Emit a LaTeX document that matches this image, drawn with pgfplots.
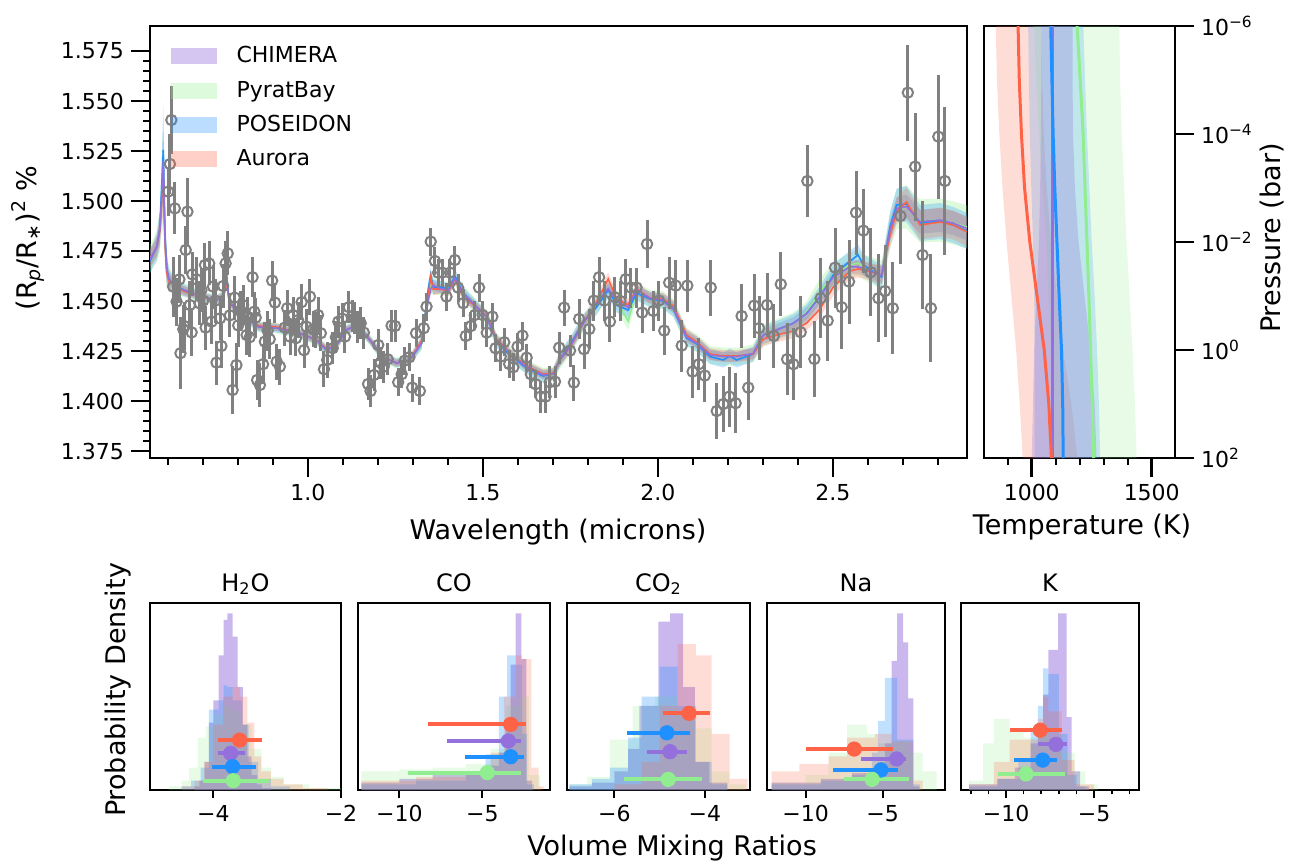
\documentclass[border=0pt]{standalone}
\usepackage{pgfplots}
\pgfplotsset{compat=1.18}
\usepackage{pgfplotstable}
\usepgfplotslibrary{fillbetween}
\usepackage{fontspec}
\setmainfont{DejaVu Sans}

\definecolor{chim}{RGB}{147,112,219}
\definecolor{pyrb}{RGB}{144,238,144}
\definecolor{posd}{RGB}{30,144,255}
\definecolor{aurr}{RGB}{255,99,71}
\definecolor{datag}{RGB}{128,128,128}

\pgfplotstableread{
x y e
0.601 1.5047 0.012
0.606 1.5185 0.015
0.610 1.5405 0.017
0.615 1.4572 0.015
0.620 1.4963 0.013
0.625 1.4497 0.012
0.633 1.4608 0.012
0.636 1.4239 0.018
0.644 1.4359 0.012
0.647 1.4375 0.012
0.651 1.4755 0.012
0.656 1.4947 0.017
0.663 1.4480 0.012
0.668 1.4343 0.012
0.670 1.4633 0.011
0.682 1.4608 0.011
0.691 1.4488 0.011
0.696 1.4555 0.011
0.701 1.4502 0.011
0.706 1.4680 0.011
0.708 1.4367 0.011
0.718 1.4688 0.011
0.725 1.4397 0.011
0.729 1.4572 0.011
0.736 1.4502 0.011
0.739 1.4192 0.011
0.749 1.4413 0.011
0.753 1.4275 0.011
0.758 1.4575 0.011
0.765 1.4688 0.011
0.771 1.4738 0.011
0.777 1.4428 0.011
0.785 1.4055 0.012
0.791 1.4517 0.011
0.796 1.4180 0.011
0.801 1.4378 0.011
0.808 1.4452 0.010
0.815 1.4480 0.010
0.825 1.4330 0.010
0.828 1.4422 0.010
0.834 1.4319 0.010
0.842 1.4619 0.010
0.847 1.4447 0.010
0.851 1.4417 0.010
0.855 1.4105 0.010
0.863 1.4080 0.011
0.872 1.4184 0.010
0.877 1.4297 0.010
0.885 1.4352 0.010
0.891 1.4309 0.010
0.898 1.4602 0.010
0.906 1.4492 0.010
0.911 1.4197 0.009
0.920 1.4172 0.009
0.934 1.4367 0.009
0.941 1.4464 0.009
0.949 1.4322 0.009
0.958 1.4430 0.009
0.966 1.4314 0.009
0.972 1.4405 0.009
0.982 1.4494 0.009
0.989 1.4254 0.009
0.996 1.4372 0.009
1.006 1.4522 0.009
1.015 1.4359 0.009
1.022 1.4355 0.009
1.029 1.4430 0.009
1.037 1.4339 0.009
1.046 1.4159 0.009
1.055 1.4205 0.009
1.071 1.4264 0.008
1.080 1.4319 0.008
1.087 1.4397 0.008
1.098 1.4412 0.008
1.106 1.4322 0.008
1.117 1.4469 0.008
1.127 1.4425 0.008
1.134 1.4413 0.008
1.141 1.4372 0.008
1.151 1.4389 0.008
1.160 1.4342 0.008
1.172 1.4085 0.008
1.179 1.4050 0.008
1.189 1.4130 0.008
1.201 1.4280 0.008
1.208 1.4192 0.008
1.217 1.4172 0.008
1.228 1.4209 0.008
1.239 1.4377 0.008
1.249 1.4375 0.008
1.258 1.4094 0.007
1.268 1.4134 0.007
1.277 1.4202 0.007
1.290 1.4219 0.007
1.298 1.4067 0.007
1.309 1.4339 0.007
1.320 1.4050 0.007
1.331 1.4364 0.007
1.339 1.4472 0.007
1.351 1.4797 0.007
1.363 1.4700 0.007
1.372 1.4642 0.007
1.384 1.4642 0.007
1.396 1.4522 0.007
1.406 1.4642 0.007
1.420 1.4705 0.007
1.429 1.4567 0.007
1.444 1.4489 0.007
1.451 1.4325 0.007
1.466 1.4375 0.007
1.477 1.4430 0.007
1.489 1.4567 0.007
1.499 1.4430 0.007
1.511 1.4342 0.007
1.527 1.4422 0.007
1.536 1.4264 0.007
1.551 1.4222 0.007
1.561 1.4294 0.007
1.575 1.4185 0.007
1.587 1.4169 0.007
1.599 1.4272 0.007
1.613 1.4327 0.007
1.625 1.4217 0.007
1.637 1.4134 0.007
1.651 1.4084 0.007
1.665 1.4022 0.008
1.679 1.4022 0.008
1.691 1.4094 0.008
1.706 1.4097 0.008
1.718 1.4267 0.008
1.732 1.4467 0.009
1.749 1.4252 0.008
1.760 1.4092 0.009
1.775 1.4410 0.010
1.789 1.4259 0.010
1.804 1.4360 0.010
1.817 1.4502 0.010
1.832 1.4619 0.010
1.847 1.4502 0.010
1.863 1.4397 0.010
1.877 1.4519 0.010
1.893 1.4500 0.010
1.908 1.4609 0.010
1.923 1.4567 0.010
1.939 1.4567 0.010
1.955 1.4442 0.010
1.969 1.4785 0.012
1.987 1.4450 0.010
2.003 1.4502 0.010
2.018 1.4352 0.012
2.032 1.4592 0.013
2.051 1.4577 0.013
2.068 1.4277 0.013
2.084 1.4577 0.013
2.099 1.4147 0.013
2.117 1.4184 0.013
2.134 1.4127 0.013
2.151 1.4567 0.014
2.168 1.3950 0.014
2.187 1.3985 0.014
2.204 1.4022 0.015
2.222 1.3989 0.015
2.239 1.4425 0.016
2.258 1.4067 0.016
2.275 1.4477 0.016
2.289 1.4364 0.016
2.312 1.4480 0.016
2.331 1.4325 0.016
2.351 1.4584 0.016
2.369 1.4209 0.018
2.387 1.4184 0.018
2.408 1.4344 0.018
2.427 1.5100 0.018
2.447 1.4210 0.019
2.465 1.4514 0.020
2.485 1.4402 0.020
2.506 1.4667 0.020
2.525 1.4469 0.021
2.546 1.4597 0.021
2.566 1.4942 0.021
2.587 1.4852 0.021
2.608 1.4644 0.022
2.630 1.4514 0.022
2.649 1.4550 0.023
2.671 1.4464 0.023
2.693 1.4925 0.024
2.714 1.5542 0.024
2.735 1.5172 0.027
2.756 1.4730 0.027
2.780 1.4464 0.027
2.801 1.5322 0.031
2.820 1.5100 0.037
}\spec

\pgfplotstableread{
x chi pyr pos aur w
0.549 1.4710 1.4710 1.4700 1.4710 0.0040
0.560 1.4745 1.4745 1.4740 1.4745 0.0040
0.568 1.4770 1.4770 1.4770 1.4770 0.0045
0.577 1.4855 1.4850 1.4860 1.4850 0.0060
0.582 1.5000 1.4990 1.5050 1.4980 0.0090
0.587 1.5200 1.5150 1.5255 1.5120 0.0150
0.592 1.4800 1.4800 1.4820 1.4780 0.0080
0.597 1.4660 1.4660 1.4660 1.4640 0.0050
0.603 1.4610 1.4610 1.4610 1.4600 0.0035
0.615 1.4585 1.4585 1.4585 1.4580 0.0025
0.645 1.4555 1.4555 1.4555 1.4550 0.0020
0.700 1.4520 1.4520 1.4520 1.4520 0.0015
0.740 1.4505 1.4505 1.4505 1.4505 0.0015
0.760 1.4530 1.4530 1.4530 1.4530 0.0015
0.768 1.4620 1.4610 1.4630 1.4600 0.0020
0.775 1.4500 1.4500 1.4500 1.4500 0.0015
0.800 1.4440 1.4440 1.4440 1.4440 0.0015
0.860 1.4370 1.4370 1.4370 1.4375 0.0015
0.910 1.4365 1.4365 1.4365 1.4370 0.0015
0.975 1.4340 1.4340 1.4340 1.4340 0.0015
1.025 1.4305 1.4305 1.4305 1.4305 0.0015
1.053 1.4255 1.4255 1.4255 1.4260 0.0015
1.082 1.4280 1.4280 1.4280 1.4280 0.0015
1.110 1.4355 1.4355 1.4355 1.4355 0.0015
1.140 1.4380 1.4380 1.4380 1.4380 0.0015
1.177 1.4305 1.4305 1.4305 1.4305 0.0015
1.215 1.4220 1.4220 1.4220 1.4220 0.0015
1.253 1.4190 1.4190 1.4190 1.4190 0.0015
1.291 1.4205 1.4205 1.4205 1.4205 0.0015
1.325 1.4290 1.4290 1.4290 1.4300 0.0020
1.344 1.4505 1.4520 1.4560 1.4530 0.0025
1.351 1.4560 1.4580 1.4630 1.4620 0.0025
1.358 1.4580 1.4580 1.4570 1.4560 0.0025
1.377 1.4563 1.4565 1.4570 1.4560 0.0020
1.402 1.4555 1.4560 1.4560 1.4550 0.0020
1.420 1.4613 1.4615 1.4625 1.4610 0.0020
1.444 1.4538 1.4540 1.4540 1.4520 0.0020
1.482 1.4470 1.4470 1.4470 1.4470 0.0020
1.511 1.4420 1.4420 1.4420 1.4425 0.0020
1.539 1.4305 1.4305 1.4300 1.4310 0.0020
1.577 1.4238 1.4238 1.4230 1.4240 0.0020
1.625 1.4170 1.4170 1.4165 1.4175 0.0020
1.672 1.4130 1.4130 1.4125 1.4135 0.0020
1.701 1.4135 1.4135 1.4135 1.4140 0.0020
1.720 1.4205 1.4205 1.4210 1.4205 0.0025
1.749 1.4272 1.4272 1.4280 1.4270 0.0025
1.787 1.4389 1.4389 1.4395 1.4390 0.0025
1.825 1.4489 1.4480 1.4470 1.4495 0.0025
1.858 1.4563 1.4560 1.4555 1.4610 0.0025
1.882 1.4497 1.4500 1.4480 1.4510 0.0025
1.915 1.4470 1.4400 1.4455 1.4480 0.0025
1.939 1.4555 1.4550 1.4540 1.4560 0.0025
1.977 1.4514 1.4510 1.4510 1.4515 0.0025
2.015 1.4505 1.4505 1.4500 1.4510 0.0025
2.044 1.4464 1.4464 1.4460 1.4475 0.0025
2.082 1.4320 1.4320 1.4315 1.4330 0.0025
2.111 1.4289 1.4289 1.4285 1.4295 0.0025
2.149 1.4230 1.4230 1.4222 1.4235 0.0025
2.187 1.4222 1.4222 1.4205 1.4225 0.0025
2.205 1.4222 1.4222 1.4225 1.4225 0.0025
2.225 1.4222 1.4222 1.4205 1.4225 0.0025
2.272 1.4238 1.4238 1.4235 1.4235 0.0025
2.301 1.4330 1.4330 1.4330 1.4310 0.0030
2.339 1.4355 1.4355 1.4355 1.4330 0.0030
2.387 1.4389 1.4389 1.4389 1.4350 0.0030
2.425 1.4438 1.4445 1.4438 1.4390 0.0030
2.463 1.4522 1.4550 1.4522 1.4460 0.0035
2.501 1.4620 1.4630 1.4630 1.4570 0.0035
2.549 1.4672 1.4680 1.4700 1.4650 0.0035
2.572 1.4670 1.4690 1.4730 1.4660 0.0035
2.587 1.4663 1.4670 1.4680 1.4655 0.0035
2.639 1.4630 1.4630 1.4620 1.4630 0.0040
2.663 1.4855 1.4850 1.4870 1.4830 0.0050
2.682 1.4963 1.4960 1.4980 1.4950 0.0055
2.710 1.4972 1.4970 1.4985 1.4995 0.0060
2.749 1.4897 1.4900 1.4890 1.4880 0.0060
2.806 1.4905 1.4905 1.4900 1.4895 0.0060
2.844 1.4889 1.4890 1.4880 1.4880 0.0060
2.883 1.4863 1.4870 1.4850 1.4845 0.0060
}\model

\pgfplotstableread{
p chi chilo chihi pyr pyrlo pyrhi pos poslo poshi aur aurlo aurhi
1e-6 1085 1040 1170 1189 1010 1365 1079 985 1215 943 850 1040
1e-5 1085 1040 1170 1202 1018 1368 1084 988 1222 948 855 1043
1e-4 1085 1038 1172 1214 1030 1375 1089 992 1230 957 865 1050
1e-3 1085 1035 1180 1222 1045 1385 1096 998 1240 970 878 1062
1e-2 1085 1030 1195 1230 1060 1395 1105 1005 1250 992 895 1080
1e-1 1085 1020 1220 1238 1070 1408 1114 1010 1262 1022 915 1105
1e0 1085 1010 1245 1245 1080 1420 1124 1012 1272 1052 935 1130
1e1 1085 1005 1262 1252 1086 1430 1129 1012 1280 1071 950 1165
1e2 1085 1000 1270 1258 1090 1437 1131 1012 1285 1082 962 1190
}\ptprof

\pgfplotsset{
  mystyle/.style={
    scale only axis, anchor=north west,
    axis line style={line width=1.3pt},
    tick align=outside,
    major tick length=9.5pt, minor tick length=3.5pt,
    every major tick/.append style={line width=1.3pt, black},
    every minor tick/.append style={line width=0.9pt, black},
    every tick label/.append style={font=\fontsize{11}{13}\selectfont},
  },
  botax/.style={mystyle, height=93.5pt, ymin=0, ymax=1, ytick=\empty,
    xtick pos=bottom, minor xtick={},
    major tick length=4pt, minor tick length=2.2pt,
    every major tick/.append style={line width=1pt},
    every minor tick/.append style={line width=0.8pt}},
  hchi/.style={const plot, draw=none, fill=chim, fill opacity=0.5},
  hpyr/.style={const plot, draw=none, fill=pyrb, fill opacity=0.22},
  hpos/.style={const plot, draw=none, fill=posd, fill opacity=0.28},
  haur/.style={const plot, draw=none, fill=aurr, fill opacity=0.22},
  ebar/.style={only marks, mark=*, mark size=3.6pt, color=#1,
    mark options={fill=#1, draw=#1},
    error bars/.cd, x dir=both, x explicit, error mark=none,
    error bar style={line width=2pt, color=#1}},
}

\begin{document}
\begin{tikzpicture}

% ---------------- main spectrum ----------------
\begin{axis}[mystyle, at={(75pt,-13pt)}, width=408.5pt, height=216pt,
  xmin=0.549, xmax=2.883, ymin=1.3715, ymax=1.5875,
  xtick={1.0,1.5,2.0,2.5}, xticklabels={1.0,1.5,2.0,2.5},
  minor xtick={0.6,0.7,0.8,0.9,1.1,1.2,1.3,1.4,1.6,1.7,1.8,1.9,2.1,2.2,2.3,2.4,2.6,2.7,2.8},
  ytick={1.375,1.4,1.425,1.45,1.475,1.5,1.525,1.55,1.575},
  yticklabels={1.375,1.400,1.425,1.450,1.475,1.500,1.525,1.550,1.575},
  minor y tick num=4,
  xtick pos=bottom, ytick pos=left,
  legend style={at={(0.018,0.972)}, anchor=north west, draw=none, fill=none,
    font=\fontsize{11}{13}\selectfont, row sep=3.6pt},
  legend cell align=left,
]
\addlegendimage{legend image code/.code={\fill[chim, fill opacity=0.4, draw=none] (0pt,-4pt) rectangle (23pt,4pt); \path (30.5pt,0pt);}}
\addlegendentry{CHIMERA}
\addlegendimage{legend image code/.code={\fill[pyrb, fill opacity=0.3, draw=none] (0pt,-4pt) rectangle (23pt,4pt); \path (30.5pt,0pt);}}
\addlegendentry{PyratBay}
\addlegendimage{legend image code/.code={\fill[posd, fill opacity=0.3, draw=none] (0pt,-4pt) rectangle (23pt,4pt); \path (30.5pt,0pt);}}
\addlegendentry{POSEIDON}
\addlegendimage{legend image code/.code={\fill[aurr, fill opacity=0.3, draw=none] (0pt,-4pt) rectangle (23pt,4pt); \path (30.5pt,0pt);}}
\addlegendentry{Aurora}

\addplot[draw=none, name path=chiU] table[x=x, y expr=\thisrow{chi}+\thisrow{w}] {\model};
\addplot[draw=none, name path=chiL] table[x=x, y expr=\thisrow{chi}-\thisrow{w}] {\model};
\addplot[fill=chim, fill opacity=0.35, draw=none] fill between[of=chiU and chiL];
\addplot[draw=none, name path=pyrU] table[x=x, y expr=\thisrow{pyr}+1.8*\thisrow{w}] {\model};
\addplot[draw=none, name path=pyrL] table[x=x, y expr=\thisrow{pyr}-1.8*\thisrow{w}] {\model};
\addplot[fill=pyrb, fill opacity=0.3, draw=none] fill between[of=pyrU and pyrL];
\addplot[draw=none, name path=posU] table[x=x, y expr=\thisrow{pos}+1.5*\thisrow{w}] {\model};
\addplot[draw=none, name path=posL] table[x=x, y expr=\thisrow{pos}-1.5*\thisrow{w}] {\model};
\addplot[fill=posd, fill opacity=0.25, draw=none] fill between[of=posU and posL];
\addplot[draw=none, name path=aurU] table[x=x, y expr=\thisrow{aur}+1.2*\thisrow{w}] {\model};
\addplot[draw=none, name path=aurL] table[x=x, y expr=\thisrow{aur}-1.2*\thisrow{w}] {\model};
\addplot[fill=aurr, fill opacity=0.25, draw=none] fill between[of=aurU and aurL];

\addplot[pyrb, line width=0.8pt] table[x=x, y=pyr] {\model};
\addplot[posd, line width=0.8pt] table[x=x, y=pos] {\model};
\addplot[aurr, line width=0.8pt] table[x=x, y=aur] {\model};
\addplot[chim, line width=0.8pt] table[x=x, y=chi] {\model};

\addplot[only marks, mark=o, mark size=2.6pt, datag,
  mark options={fill=white, draw=datag, line width=1pt},
  error bars/.cd, y dir=both, y explicit, error mark=none,
  error bar style={line width=1.5pt, datag}]
  table[x=x, y=y, y error=e] {\spec};
\end{axis}

% ---------------- PT profile ----------------
\begin{axis}[mystyle, at={(492pt,-13pt)}, width=95.5pt, height=216pt,
  xmin=801, xmax=1597, ymode=log, ymin=1e-6, ymax=1e2, y dir=reverse,
  xtick={1000,1500}, xticklabels={1000,1500},
  minor xtick={900,1100,1200,1300,1400},
  ytick={1e-6,1e-4,1e-2,1,1e2},
  yticklabels={10\textsuperscript{−6},10\textsuperscript{−4},10\textsuperscript{−2},10\textsuperscript{0},10\textsuperscript{2}},
  yminorticks=false,
  xtick pos=bottom, ytick pos=right, yticklabel pos=right,
]
\addplot[draw=none, name path=aL] table[x=aurlo, y=p] {\ptprof};
\addplot[draw=none, name path=aH] table[x=aurhi, y=p] {\ptprof};
\addplot[fill=aurr, fill opacity=0.22, draw=none] fill between[of=aL and aH];
\addplot[draw=none, name path=gL] table[x=pyrlo, y=p] {\ptprof};
\addplot[draw=none, name path=gH] table[x=pyrhi, y=p] {\ptprof};
\addplot[fill=pyrb, fill opacity=0.22, draw=none] fill between[of=gL and gH];
\addplot[draw=none, name path=bL] table[x=poslo, y=p] {\ptprof};
\addplot[draw=none, name path=bH] table[x=poshi, y=p] {\ptprof};
\addplot[fill=posd, fill opacity=0.2, draw=none] fill between[of=bL and bH];
\addplot[draw=none, name path=cL] table[x=chilo, y=p] {\ptprof};
\addplot[draw=none, name path=cH] table[x=chihi, y=p] {\ptprof};
\addplot[fill=chim, fill opacity=0.28, draw=none] fill between[of=cL and cH];
\addplot[chim, line width=1.5pt] table[x=chi, y=p] {\ptprof};
\addplot[pyrb, line width=1.5pt] table[x=pyr, y=p] {\ptprof};
\addplot[posd, line width=1.5pt] table[x=pos, y=p] {\ptprof};
\addplot[aurr, line width=1.5pt] table[x=aur, y=p] {\ptprof};
\end{axis}

% ---------------- H2O ----------------
\begin{axis}[botax, at={(75pt,-301.5pt)}, width=95.5pt, xmin=-4.995, xmax=-2,
  xtick={-4,-2}, xticklabels={−4,−2}]
\addplot[hchi] coordinates {(-4.30,0.02) (-4.22,0.05) (-4.14,0.15) (-4.07,0.36) (-4.00,0.48) (-3.92,0.72) (-3.84,0.91) (-3.78,0.945) (-3.70,0.82) (-3.62,0.55) (-3.54,0.35) (-3.47,0.18) (-3.40,0.08) (-3.32,0.03) (-3.24,0.01) (-3.10,0)} \closedcycle;
\addplot[hpyr] coordinates {(-4.70,0.02) (-4.50,0.05) (-4.38,0.12) (-4.25,0.28) (-4.12,0.34) (-4.00,0.40) (-3.85,0.45) (-3.70,0.42) (-3.55,0.35) (-3.40,0.22) (-3.25,0.12) (-3.10,0.07) (-2.90,0.03) (-2.50,0.01) (-2.00,0)} \closedcycle;
\addplot[hpos] coordinates {(-4.50,0.02) (-4.35,0.05) (-4.20,0.12) (-4.07,0.43) (-3.92,0.48) (-3.84,0.56) (-3.78,0.55) (-3.70,0.48) (-3.55,0.35) (-3.45,0.15) (-3.30,0.06) (-3.10,0.02) (-2.80,0)} \closedcycle;
\addplot[haur] coordinates {(-4.50,0.02) (-4.30,0.05) (-4.15,0.15) (-4.00,0.35) (-3.85,0.50) (-3.70,0.55) (-3.58,0.50) (-3.47,0.36) (-3.36,0.18) (-3.25,0.10) (-3.10,0.06) (-2.90,0.03) (-2.60,0.01) (-2.20,0)} \closedcycle;
\addplot[ebar=aurr] coordinates {(-3.59,0.267) += (0.355,0) -= (0.34,0)};
\addplot[ebar=chim] coordinates {(-3.73,0.196) += (0.23,0) -= (0.20,0)};
\addplot[ebar=posd] coordinates {(-3.70,0.125) += (0.37,0) -= (0.33,0)};
\addplot[ebar=pyrb] coordinates {(-3.69,0.05) += (0.56,0) -= (0.48,0)};
\end{axis}

% ---------------- CO ----------------
\begin{axis}[botax, at={(179pt,-301.5pt)}, width=96pt, xmin=-12.5, xmax=-0.92,
  xtick={-10,-5}, xticklabels={−10,−5}]
\addplot[hchi] coordinates {(-12.3,0.04) (-10.0,0.06) (-8.0,0.08) (-6.0,0.10) (-4.5,0.13) (-4.0,0.20) (-3.6,0.38) (-3.3,0.67) (-3.0,0.945) (-2.65,0.70) (-2.35,0.05) (-2.0,0)} \closedcycle;
\addplot[hpyr] coordinates {(-12.3,0.10) (-10.0,0.11) (-8.0,0.12) (-6.0,0.14) (-4.5,0.22) (-3.6,0.45) (-2.8,0.50) (-2.2,0.08) (-1.5,0)} \closedcycle;
\addplot[hpos] coordinates {(-12.3,0.03) (-9.0,0.05) (-6.0,0.08) (-4.8,0.19) (-4.0,0.50) (-3.5,0.72) (-3.0,0.67) (-2.6,0.30) (-2.3,0.03) (-1.9,0)} \closedcycle;
\addplot[haur] coordinates {(-12.3,0.05) (-9.0,0.07) (-6.0,0.10) (-4.5,0.20) (-3.7,0.50) (-3.0,0.72) (-2.6,0.70) (-2.05,0.12) (-1.6,0.02) (-1.3,0)} \closedcycle;
\addplot[ebar=aurr] coordinates {(-3.29,0.351) += (0.9,0) -= (5.0,0)};
\addplot[ebar=chim] coordinates {(-3.43,0.262) += (0.76,0) -= (3.72,0)};
\addplot[ebar=posd] coordinates {(-3.29,0.178) += (0.8,0) -= (2.75,0)};
\addplot[ebar=pyrb] coordinates {(-4.70,0.093) += (2.03,0) -= (4.79,0)};
\end{axis}

% ---------------- CO2 ----------------
\begin{axis}[botax, at={(283.5pt,-301.5pt)}, width=91.5pt, xmin=-7.05, xmax=-3.0,
  xtick={-6,-4}, xticklabels={−6,−4}]
\addplot[hchi] coordinates {(-7.0,0.02) (-6.5,0.04) (-6.0,0.10) (-5.7,0.22) (-5.45,0.45) (-5.03,0.90) (-4.77,0.945) (-4.48,0.55) (-4.22,0.15) (-3.9,0.04) (-3.5,0)} \closedcycle;
\addplot[hpyr] coordinates {(-7.0,0.03) (-6.6,0.07) (-6.1,0.27) (-5.6,0.45) (-5.1,0.50) (-4.6,0.42) (-4.2,0.33) (-3.85,0.10) (-3.45,0.03) (-3.1,0)} \closedcycle;
\addplot[hpos] coordinates {(-7.0,0.03) (-6.5,0.06) (-6.1,0.12) (-5.7,0.28) (-5.4,0.50) (-5.0,0.66) (-4.6,0.45) (-4.2,0.15) (-3.85,0.03) (-3.5,0)} \closedcycle;
\addplot[haur] coordinates {(-6.0,0.03) (-5.4,0.15) (-5.0,0.45) (-4.6,0.78) (-4.2,0.72) (-3.85,0.30) (-3.45,0.06) (-3.05,0)} \closedcycle;
\addplot[ebar=aurr] coordinates {(-4.35,0.41) += (0.46,0) -= (0.57,0)};
\addplot[ebar=posd] coordinates {(-4.84,0.306) += (0.51,0) -= (0.88,0)};
\addplot[ebar=chim] coordinates {(-4.77,0.205) += (0.37,0) -= (0.52,0)};
\addplot[ebar=pyrb] coordinates {(-4.81,0.057) += (0.74,0) -= (0.98,0)};
\end{axis}

% ---------------- Na ----------------
\begin{axis}[botax, at={(383.5pt,-301.5pt)}, width=89pt, xmin=-12.5, xmax=-0.95,
  xtick={-10,-5}, xticklabels={−10,−5}]
\addplot[hchi] coordinates {(-12.2,0.04) (-9.0,0.06) (-7.0,0.09) (-5.3,0.15) (-4.85,0.25) (-4.42,0.69) (-4.05,0.945) (-3.66,0.79) (-3.34,0.49) (-3.01,0.02) (-2.6,0)} \closedcycle;
\addplot[hpyr] coordinates {(-12.2,0.04) (-10.0,0.08) (-8.5,0.20) (-7.3,0.35) (-6.0,0.30) (-5.3,0.25) (-4.4,0.26) (-3.3,0.20) (-2.4,0.10) (-1.5,0)} \closedcycle;
\addplot[hpos] coordinates {(-12.2,0.03) (-9.0,0.05) (-7.0,0.08) (-5.7,0.20) (-5.29,0.37) (-4.85,0.60) (-4.42,0.60) (-4.05,0.27) (-3.01,0.03) (-2.6,0)} \closedcycle;
\addplot[haur] coordinates {(-12.2,0.10) (-10.4,0.14) (-8.5,0.18) (-7.3,0.28) (-5.5,0.30) (-4.4,0.26) (-3.0,0.05) (-2.4,0)} \closedcycle;
\addplot[ebar=aurr] coordinates {(-6.84,0.219) += (2.53,0) -= (3.14,0)};
\addplot[ebar=chim] coordinates {(-4.09,0.166) += (0.58,0) -= (2.34,0)};
\addplot[ebar=posd] coordinates {(-5.11,0.107) += (1.08,0) -= (3.14,0)};
\addplot[ebar=pyrb] coordinates {(-5.68,0.057) += (2.41,0) -= (1.83,0)};
\end{axis}

% ---------------- K ----------------
\begin{axis}[botax, at={(480.5pt,-301.5pt)}, width=89pt, xmin=-12.56, xmax=-2.45,
  xtick={-10,-5}, xticklabels={−10,−5},
  minor xtick={-12,-11,-9,-8,-7,-6,-4,-3}]
\addplot[hchi] coordinates {(-12.1,0.03) (-10.5,0.06) (-9.5,0.12) (-8.6,0.25) (-8.2,0.33) (-7.9,0.51) (-7.6,0.75) (-7.04,0.945) (-6.56,0.39) (-6.28,0.10) (-5.8,0.02) (-5.3,0)} \closedcycle;
\addplot[hpyr] coordinates {(-12.1,0.05) (-11.3,0.25) (-10.7,0.38) (-9.8,0.32) (-9.0,0.28) (-8.2,0.30) (-7.6,0.28) (-6.8,0.20) (-6.1,0.10) (-5.5,0.03) (-4.8,0)} \closedcycle;
\addplot[hpos] coordinates {(-12.1,0.02) (-10.5,0.06) (-9.3,0.15) (-8.6,0.33) (-8.2,0.45) (-7.9,0.65) (-7.6,0.62) (-7.0,0.30) (-6.5,0.08) (-6.0,0.02) (-5.5,0)} \closedcycle;
\addplot[haur] coordinates {(-12.1,0.03) (-10.7,0.15) (-9.8,0.27) (-8.2,0.38) (-7.9,0.50) (-7.6,0.42) (-6.85,0.16) (-6.1,0.03) (-5.0,0)} \closedcycle;
\addplot[ebar=aurr] coordinates {(-8.06,0.32) += (1.25,0) -= (1.71,0)};
\addplot[ebar=chim] coordinates {(-7.17,0.244) += (0.64,0) -= (1.04,0)};
\addplot[ebar=posd] coordinates {(-7.92,0.16) += (0.82,0) -= (1.61,0)};
\addplot[ebar=pyrb] coordinates {(-8.87,0.086) += (2.19,0) -= (1.57,0)};
\end{axis}

% ---------------- labels ----------------
\node[rotate=90, font=\fontsize{13.5}{16}\selectfont] at (14pt,-119pt) {(R\textsubscript{\textit{p}}/R\textsubscript{∗})\textsuperscript{2} \%};
\node[font=\fontsize{13.5}{16}\selectfont] at (279pt,-266pt) {Wavelength (microns)};
\node[font=\fontsize{13.5}{16}\selectfont] at (541pt,-263.5pt) {Temperature (K)};
\node[rotate=90, font=\fontsize{13.5}{16}\selectfont] at (636pt,-119pt) {Pressure (bar)};
\node[rotate=90, font=\fontsize{13.5}{16}\selectfont] at (59pt,-345pt) {Probability Density};
\node[font=\fontsize{13.5}{16}\selectfont] at (336pt,-424pt) {Volume Mixing Ratios};
\node[anchor=base, font=\fontsize{12}{14}\selectfont] at (122.75pt,-295.5pt) {H\textsubscript{2}O};
\node[anchor=base, font=\fontsize{12}{14}\selectfont] at (227pt,-295.5pt) {CO};
\node[anchor=base, font=\fontsize{12}{14}\selectfont] at (329.25pt,-295.5pt) {CO\textsubscript{2}};
\node[anchor=base, font=\fontsize{12}{14}\selectfont] at (428pt,-295.5pt) {Na};
\node[anchor=base, font=\fontsize{12}{14}\selectfont] at (525pt,-295.5pt) {K};

\pgfresetboundingbox
\path[use as bounding box] (0,0) rectangle (648pt,-431.5pt);
\end{tikzpicture}
\end{document}
